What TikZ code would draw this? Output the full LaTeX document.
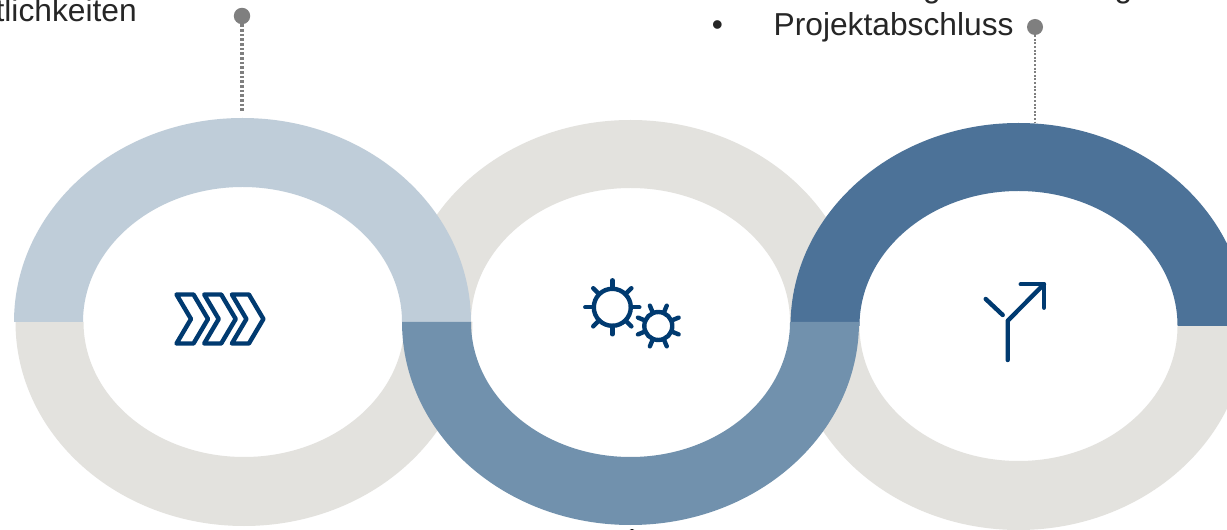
\documentclass[tikz,border=0pt]{standalone}
\usepackage{fontspec}
\setmainfont{Liberation Sans}
\definecolor{ringgray}{HTML}{E3E2DE}
\definecolor{ringlight}{HTML}{BFCDD9}
\definecolor{ringmid}{HTML}{7191AD}
\definecolor{ringdark}{HTML}{4C7298}
\definecolor{icon}{HTML}{003A70}
\definecolor{pin}{HTML}{7F7F7F}
\definecolor{txt}{HTML}{262626}
% #1 colour, #2 cx, #3 cy, #4 rx, #5 ry, #6 inner rx, #7 inner ry, #8 side (1 top, -1 bottom)
\newcommand{\halfring}[8]{%
  \fill[#1] ({#2-#4},#3)
    arc[start angle=180,end angle={180-#8*180},x radius={#4*0.75pt},y radius={#5*0.75pt}]
    -- ({#2+#6},#3)
    arc[start angle={180-#8*180},end angle=180,x radius={#6*0.75pt},y radius={#7*0.75pt}]
    -- cycle;}
\newcommand{\gearicon}[5]{% cx cy r tooth-outer start angle
  \draw[iconline] (#1,#2) circle[radius={#3*0.75pt}];
  \foreach \a in {0,45,...,315}
    \draw[iconline] ($(#1,#2)+({(\a+#5)}:{#3*0.75pt})$) -- ($(#1,#2)+({(\a+#5)}:{#4*0.75pt})$);}
\newcommand{\chevronicon}[1]{%
  \draw[iconline,shift={(#1,0)}] (176.5,294.5) -- (193.5,294.5) -- (208,319) -- (193.5,343.5) -- (176.5,343.5) -- (191,319) -- cycle;}
\usetikzlibrary{calc}
\tikzset{
  iconline/.style={draw=icon,line width=3.3pt,line cap=round,line join=round},
  pindot/.style={circle,fill=pin,inner sep=0pt,minimum size=#1},
  pinline/.style={draw=pin},
  label/.style={text=txt,font=\fontsize{23.8pt}{28pt}\selectfont,inner sep=0pt},
}
\begin{document}
\begin{tikzpicture}[x=0.75pt,y=-0.75pt]
\useasboundingbox (0,0) rectangle (1227,530);
\clip (0,0) rectangle (1227,530);
\fill[white] (0,0) rectangle (1227,530);
% grey halves
\halfring{ringgray}{244}{322}{228.5}{204}{160.5}{135}{-1}
\halfring{ringgray}{630.5}{322}{228.5}{202}{159.5}{134}{1}
\halfring{ringgray}{1018.5}{326}{228}{204}{159}{135}{-1}
% coloured halves
\halfring{ringlight}{242.5}{322}{228.5}{204}{159.5}{135}{1}
\halfring{ringdark}{1018.5}{326}{228}{203}{159}{135}{1}
\halfring{ringmid}{630.5}{322}{228.5}{203}{159.5}{135}{-1}
% icons
\chevronicon{0}
\chevronicon{27.7}
\chevronicon{55.4}
\gearicon{612.3}{307.3}{18.5}{27}{0}
\gearicon{658.3}{326}{14}{22}{22.5}
\draw[iconline] (1007.7,360) -- (1007.7,320.7) -- (1044,284.3);
\draw[iconline] (1020.7,284.3) -- (1044,284.3) -- (1044,307.7);
\draw[iconline] (985.7,299) -- (1002.7,315);
% pins
\node[pindot=12.3pt] (pinA) at (242,16) {};
\coordinate (ringA) at (242,111.5);
\draw[pinline,line width=2.6pt,dash pattern=on 2pt off 1.5pt] (pinA) -- (ringA);
\node[pindot=12pt] (pinB) at (1035,27) {};
\coordinate (ringB) at (1035,123);
\draw[pinline,line width=1.9pt,dash pattern=on 1.5pt off 1.2pt] (pinB) -- (ringB);
% texts
\node[label,anchor=base east] (tA) at (137,22) {tlichkeiten};
\node[label,anchor=base] (bul) at (717.5,36) {•};
\node[label,anchor=base west] (tB) at (773.4,36) {Projektabschluss};
\node[label,anchor=base] (gA) at (932,-2) {g};
\node[label,anchor=base] (gB) at (1123.5,-2) {g};
\fill[pin] (632,533) circle[radius=3pt];
\end{tikzpicture}
\end{document}
